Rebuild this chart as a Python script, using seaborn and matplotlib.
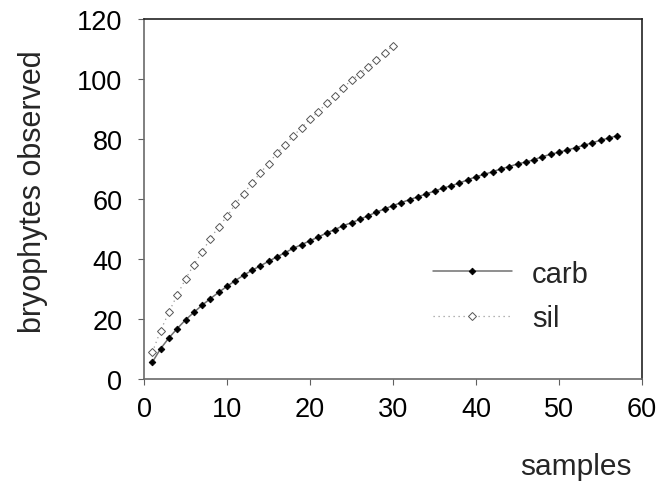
import numpy as np
import pandas as pd
import matplotlib
matplotlib.use("Agg")
import matplotlib.pyplot as plt
import seaborn as sns

# ---- data ----
carb_samples = list(range(1, 58))
carb_values = [5.6, 10.1, 13.7, 16.8, 19.7, 22.2, 24.6, 26.8, 28.9, 30.9,
               32.8, 34.6, 36.2, 37.7, 39.2, 40.7, 42.1, 43.6, 44.8, 46.1,
               47.3, 48.7, 49.8, 51.1, 52.1, 53.2, 54.4, 55.6, 56.7, 57.8,
               58.8, 59.8, 60.7, 61.7, 62.6, 63.6, 64.4, 65.3, 66.4, 67.4,
               68.2, 69.1, 70.0, 70.8, 71.7, 72.3, 73.1, 74.1, 74.9, 75.6,
               76.3, 77.1, 77.9, 78.7, 79.6, 80.3, 81.1]
sil_samples = list(range(1, 31))
sil_values = [8.9, 16.1, 22.3, 28.0, 33.3, 38.1, 42.4, 46.8, 50.8, 54.2,
              58.3, 61.8, 65.2, 68.7, 71.8, 75.2, 78.1, 81.1, 83.8, 86.6,
              89.1, 91.9, 94.4, 97.1, 99.6, 101.8, 104.1, 106.4, 108.8, 111.1]
series_names = ["carb", "sil"]
x_ticks = [0, 10, 20, 30, 40, 50, 60]
y_ticks = [0, 20, 40, 60, 80, 100, 120]

carb_df = pd.DataFrame({"samples": carb_samples, "observed": carb_values})
sil_df = pd.DataFrame({"samples": sil_samples, "observed": sil_values})

sns.set_style("white")
plt.rcParams["font.family"] = ["Liberation Sans", "DejaVu Sans"]

fig = plt.figure(figsize=(6.6, 4.85), dpi=100)
L, R, T, B = 144, 642, 20, 380
ax = fig.add_axes([L / 660, 1 - B / 485, (R - L) / 660, (B - T) / 485])

sns.lineplot(data=carb_df, x="samples", y="observed", ax=ax,
             color="#707070", linewidth=1.1, marker="D", markersize=3.4,
             markerfacecolor="black", markeredgecolor="black",
             markeredgewidth=0.6, label=series_names[0])
sns.lineplot(data=sil_df, x="samples", y="observed", ax=ax,
             color="#9a9a9a", linewidth=0.9, linestyle=(0, (1, 3)),
             marker="D", markersize=4.0, markerfacecolor="white",
             markeredgecolor="#555555", markeredgewidth=0.7,
             label=series_names[1])

ax.set_xlim(0, 60)
ax.set_ylim(0, 120)
ax.set_xticks(x_ticks)
ax.set_yticks(y_ticks)
ax.set_xticklabels([str(t) for t in x_ticks])
ax.set_yticklabels([str(t) for t in y_ticks])

tick_fs = 19.5
ax.tick_params(axis="x", direction="out", length=4, width=0.8,
               color="#606060", pad=8, labelsize=tick_fs, labelcolor="black",
               bottom=True)
ax.tick_params(axis="y", direction="out", length=4, width=0.8,
               color="#606060", pad=11.5, labelsize=tick_fs,
               labelcolor="black", left=True)

for side in ["left", "bottom"]:
    ax.spines[side].set_color("#6a6a6a")
    ax.spines[side].set_linewidth(1.2)
for side in ["top", "right"]:
    ax.spines[side].set_color("#222222")
    ax.spines[side].set_linewidth(1.2)
    ax.spines[side].set_visible(True)

ax.set_xlabel("samples", fontsize=21.5)
ax.xaxis.set_label_coords(0.867, -0.203)
ax.set_ylabel("bryophytes observed", fontsize=22)
ax.yaxis.set_label_coords(-0.193, 0.524)

leg = ax.legend(loc="center left", bbox_to_anchor=(0.580, 0.2306),
                frameon=False, fontsize=21, handlelength=2.71,
                handletextpad=0.69, labelspacing=0.57, borderpad=0,
                borderaxespad=0, markerscale=1.0)

fig.savefig("out.png", dpi=100, facecolor="white")
